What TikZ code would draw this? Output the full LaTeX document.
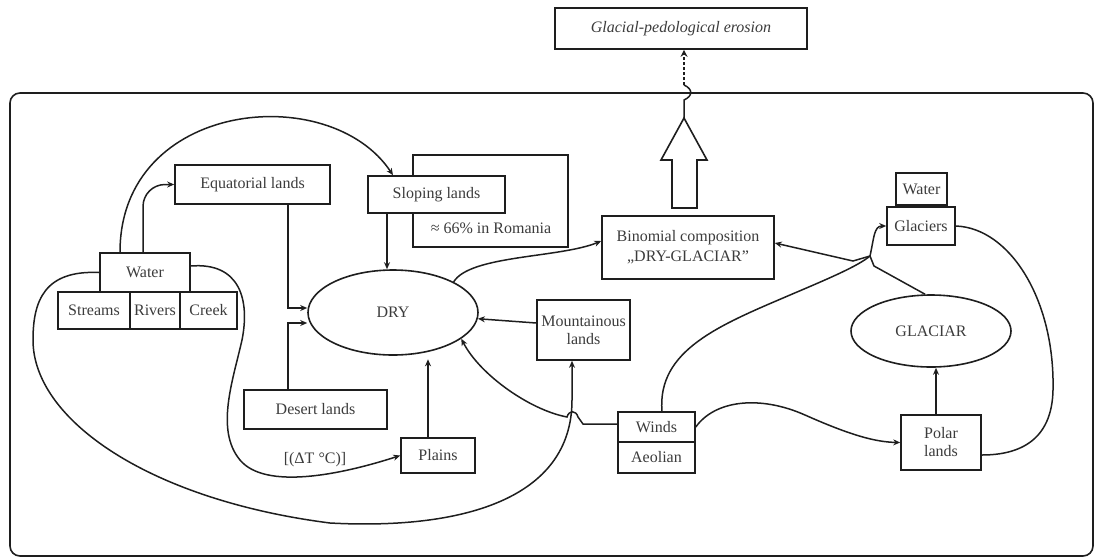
\documentclass[tikz,border=0pt]{standalone}
\usepackage{fontspec}
\setmainfont{Liberation Serif}
\usetikzlibrary{shapes.geometric,arrows.meta}
\definecolor{linec}{HTML}{1E1E1E}
\definecolor{txtc}{HTML}{3C3C3C}
\newcommand\myfs{\fontsize{16}{18}\selectfont}
\tikzset{
  box/.style={draw=linec, line width=1.6pt, fill=white, inner sep=1pt, text=txtc, font=\myfs, align=center},
  ell/.style={ellipse, draw=linec, line width=1.6pt, fill=white, inner sep=1pt, text=txtc, font=\myfs},
  txt/.style={text=txtc, font=\myfs, inner sep=1pt},
  ln/.style={line width=1.5pt, draw=linec},
  arr/.style={line width=1.5pt, draw=linec, -{Stealth[length=7pt,width=6pt]}},
}
\begin{document}
\begin{tikzpicture}[x=1pt,y=-1pt]
\useasboundingbox (0,0) rectangle (1095,558);
\draw[ln, line width=1.6pt, rounded corners=10pt] (10,93) rectangle (1093,556);

% nodes
\node[box, minimum width=252pt, minimum height=41pt, font=\myfs\itshape] (erosion) at (681,28.5) {Glacial-pedological erosion};
\node[box, minimum width=155pt, minimum height=92pt] (romania) at (490.5,201) {};
\node[txt] (romtext) at (491,228) {≈ 66\% in Romania};
\node[box, minimum width=137pt, minimum height=37pt] (sloping) at (436.5,194.5) {Sloping lands};
\node[box, minimum width=155pt, minimum height=39pt] (equatorial) at (252.5,184.5) {Equatorial lands};
\node[box, minimum width=90pt, minimum height=39pt] (water1) at (145,272.5) {Water};
\node[box, minimum width=72pt, minimum height=37pt] (streams) at (94,310.5) {Streams};
\node[box, minimum width=50pt, minimum height=37pt] (rivers) at (155,310.5) {Rivers};
\node[box, minimum width=57pt, minimum height=37pt] (creek) at (208.5,310.5) {Creek};
\node[ell, minimum width=170pt, minimum height=85pt] (dry) at (393,312.5) {DRY};
\node[box, minimum width=143pt, minimum height=39pt] (desert) at (315.5,409.5) {Desert lands};
\node[box, minimum width=74pt, minimum height=35pt] (plains) at (438,455.5) {Plains};
\node[txt] (dt) at (315,460) {[(ΔT °C)]};
\node[box, minimum width=93pt, minimum height=60pt] (mountain) at (583.5,330) {Mountainous\\lands};
\node[box, minimum width=77pt, minimum height=30pt] (winds) at (656.5,427) {Winds};
\node[box, minimum width=77pt, minimum height=31pt] (aeolian) at (656.5,457.5) {Aeolian};
\node[box, minimum width=172pt, minimum height=63pt] (binom) at (688,247.5) {Binomial composition\\[2pt]„DRY-GLACIAR”};
\node[box, minimum width=51pt, minimum height=32pt] (water2) at (921.5,189) {Water};
\node[box, minimum width=68pt, minimum height=38pt] (glaciers) at (921,226) {Glaciers};
\node[ell, minimum width=160pt, minimum height=72pt] (glaciar) at (931,331) {GLACIAR};
\node[box, minimum width=80pt, minimum height=55pt] (polar) at (941,442.5) {Polar\\lands};

\coordinate (J) at (870,256);
\coordinate (tip) at (684,118);

% big hollow arrow and link to erosion
\draw[ln, line width=1.6pt, fill=white] (672,208) -- (672,160) -- (661,160) -- (tip) -- (707,160) -- (697,160) -- (697,208) -- cycle;
\draw[ln] (tip) -- (684,100) .. controls (693,96) and (693,89) .. (684,85);
\draw[line width=1.5pt, draw=linec, dash pattern=on 3pt off 2pt, -{Stealth[length=7pt,width=7pt]}] (684,85) -- (erosion.south -| tip);

% connectors, left part
\draw[arr] ([xshift=-25pt]water1.north) .. controls (120,100) and (330,80) .. ([xshift=-43.5pt]sloping.north);
\draw[arr, rounded corners=22pt] ([xshift=-2pt]water1.north) |- (equatorial.west);
\draw[arr] ([xshift=35.5pt]equatorial.south) |- ([yshift=4.5pt]dry.west);
\draw[arr] ([xshift=-27.5pt]desert.north) |- ([yshift=-10.5pt]dry.west);
\draw[arr] ([xshift=-49.5pt]sloping.south) -- ([xshift=-49.5pt]sloping.south |- dry.north);
\draw[arr, shorten >=3.5pt] ([xshift=-10pt]plains.north) -- ([xshift=-10pt]plains.north |- dry.south);
\draw[arr] ([yshift=7pt]mountain.west) -- (dry);
\draw[arr] (dry.north east) .. controls (470,255) and (560,258) .. ([yshift=6.5pt]binom.west);
\draw[arr] ([yshift=3pt]winds.west) -- (583,424) -- (578,417) .. controls (576,410) and (569,410) .. (567,417) .. controls (530,410) and (480,375) .. (dry.-21);
\draw[arr] (water1.west) .. controls (45,270) and (33,300) .. (33,340) .. controls (33,420) and (150,500) .. (330,523) .. controls (460,530) and (572,500) .. (572,400) -- ([xshift=-11.5pt]mountain.south);
\draw[arr] ([yshift=6.5pt]water1.east) .. controls (240,262) and (250,300) .. (242,340) .. controls (233,380) and (215,430) .. (240,460) .. controls (265,490) and (340,475) .. (plains.west);

% connectors, right part
\draw[arr] (winds.east) .. controls (715,400) and (760,395) .. (805,415) .. controls (850,435) and (875,442) .. (polar.west);
\draw[ln] ([xshift=5.5pt]winds.north) .. controls (657,350) and (720,325) .. (790,295) .. controls (830,278) and (858,266) .. (J);
\draw[arr] (J) .. controls (874,238) and (874,226) .. (glaciers.west);
\draw[arr] (J) -- (853,261) -- ([yshift=4.5pt]binom.east);
\draw[ln] ([xshift=-6pt]glaciar.north) -- (874,266) -- (J);
\draw[ln] (glaciers.east) .. controls (1010,228) and (1055,300) .. (1053,390) .. controls (1052,440) and (1020,455) .. ([yshift=-12.5pt]polar.east);
\draw[arr] ([xshift=-5pt]polar.north) -- ([xshift=-5pt]polar.north |- glaciar.south);
\end{tikzpicture}
\end{document}
